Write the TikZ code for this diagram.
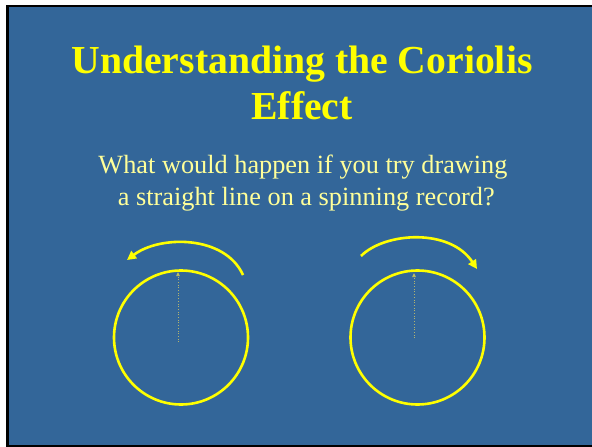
\documentclass[tikz,border=0pt]{standalone}
\usepackage{fontspec}
\setmainfont{Liberation Serif}
\usepackage{xcolor}
\definecolor{SlideBlue}{HTML}{336699}
\definecolor{TitleYellow}{HTML}{FFFF00}
\definecolor{TextYellow}{HTML}{FFFF99}
\definecolor{PenGrey}{HTML}{B4B46E}
\usetikzlibrary{arrows.meta,positioning}

\begin{document}
\begin{tikzpicture}[x=1pt,y=-1pt,
    every node/.style={inner sep=0pt},
    record/.style={circle,draw=TitleYellow,line width=2.6pt,minimum size=134pt},
    spin/.style={draw=TitleYellow,line width=2.6pt,-{Triangle[length=9pt,width=9pt]}},
    pen/.style={draw=PenGrey,line width=0.7pt,dotted,-{Triangle[length=4pt,width=3.5pt,fill=TitleYellow]}}]
  \useasboundingbox (0,0) rectangle (592,447);
  \fill[SlideBlue] (7.5,6) rectangle (592,446);
  \draw[black,line width=2.2pt] (592,6) -- (7.5,6) -- (7.5,446) -- (592,446);
  \node[font=\bfseries\fontsize{39.7}{46}\selectfont,text=TitleYellow,align=center,anchor=base]
     (title) at (302,119) {Understanding the Coriolis\\Effect};
  \node[font=\fontsize{26.3}{32}\selectfont,text=TextYellow,align=center,anchor=base]
     (question) at (303,205) {What would happen if you try drawing\\\ a straight line on a spinning record?};
  \node[record] (disk1) at (181,337.5) {};
  \node[record] (disk2) at (417.5,337.5) {};
  \coordinate (pen1) at (178,342);
  \coordinate (tip1) at (178,272);
  \coordinate (pen2) at (414,338);
  \coordinate (tip2) at (414,273);
  \draw[pen] (pen1) -- (tip1);
  \draw[pen] (pen2) -- (tip2);
  \coordinate (ccwstart) at (243,275);
  \coordinate (ccwend) at (127,260);
  \coordinate (cwstart) at (361,256);
  \coordinate (cwend) at (477,269);
  \draw[spin] (ccwstart) .. controls (225,235) and (160,235) .. (ccwend);
  \draw[spin] (cwstart) .. controls (385,232) and (450,228) .. (cwend);
\end{tikzpicture}
\end{document}
